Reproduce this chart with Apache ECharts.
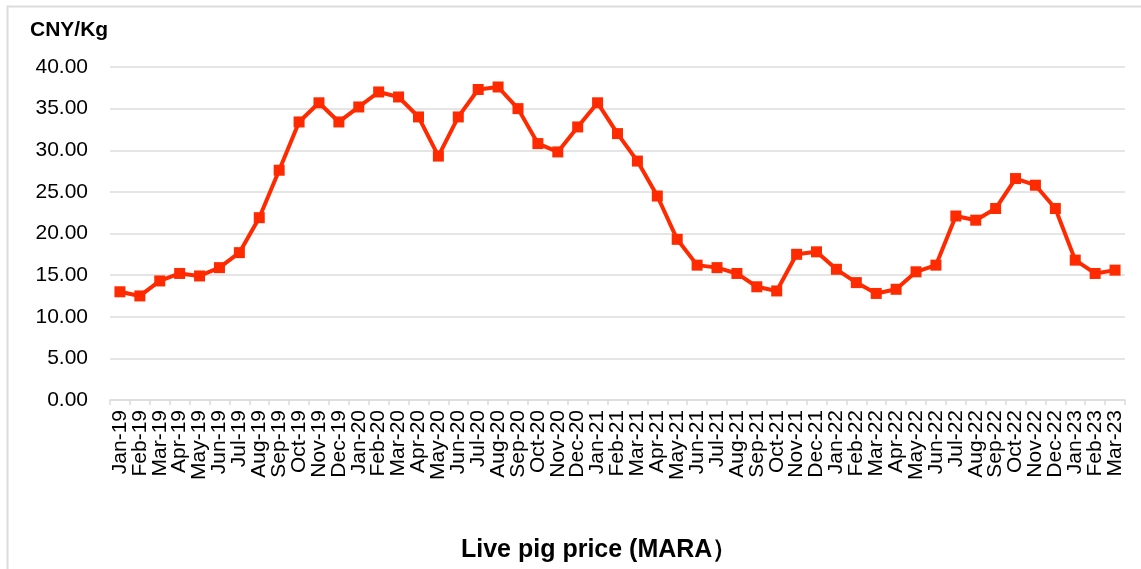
<!DOCTYPE html>
<html>
<head>
<meta charset="utf-8">
<script src="https://cdn.jsdelivr.net/npm/echarts@6/dist/echarts.min.js"></script>
<style>
  html, body { margin: 0; padding: 0; background: #fff; }
  #pig-price { width: 1141px; height: 569px; }
</style>
</head>
<body>
<div id="pig-price"></div>
<script>
  // months shown on the x axis
  let months = [
    'Jan-19','Feb-19','Mar-19','Apr-19','May-19','Jun-19','Jul-19','Aug-19','Sep-19','Oct-19','Nov-19','Dec-19',
    'Jan-20','Feb-20','Mar-20','Apr-20','May-20','Jun-20','Jul-20','Aug-20','Sep-20','Oct-20','Nov-20','Dec-20',
    'Jan-21','Feb-21','Mar-21','Apr-21','May-21','Jun-21','Jul-21','Aug-21','Sep-21','Oct-21','Nov-21','Dec-21',
    'Jan-22','Feb-22','Mar-22','Apr-22','May-22','Jun-22','Jul-22','Aug-22','Sep-22','Oct-22','Nov-22','Dec-22',
    'Jan-23','Feb-23','Mar-23'
  ];

  // live pig price, CNY/Kg
  let prices = [
    13.0, 12.5, 14.3, 15.2, 14.9, 15.9, 17.7, 21.9, 27.6, 33.4, 35.7, 33.4,
    35.2, 37.0, 36.4, 34.0, 29.3, 34.0, 37.3, 37.6, 35.0, 30.8, 29.8, 32.8,
    35.7, 32.0, 28.7, 24.5, 19.3, 16.2, 15.9, 15.2, 13.6, 13.1, 17.5, 17.8,
    15.7, 14.1, 12.8, 13.3, 15.4, 16.2, 22.1, 21.6, 23.0, 26.6, 25.8, 23.0,
    16.8, 15.2, 15.6
  ];

  let yTicks = { min: 0, max: 40, step: 5 };

  let chart = echarts.init(document.getElementById('pig-price'));

  const font = '"Liberation Sans", Arial, Helvetica, sans-serif';
  const red = '#ff2a00';
  const grey = '#dcdcdc';

  chart.setOption({
    animation: false,
    backgroundColor: '#fff',
    textStyle: { fontFamily: font },
    graphic: [
      {
        type: 'rect',
        silent: true,
        shape: { x: 7.5, y: 6.5, width: 1200, height: 700 },
        style: { fill: 'none', stroke: grey, lineWidth: 2 }
      }
    ],
    title: [
      {
        text: 'CNY/Kg',
        left: 25,
        top: 15,
        textStyle: { fontFamily: font, fontSize: 21, fontWeight: 'bold', color: '#000' }
      },
      {
        text: 'Live pig price (MARA）',
        left: 456,
        top: 533,
        textStyle: { fontFamily: font, fontSize: 25, fontWeight: 'bold', color: '#000' }
      }
    ],
    grid: {
      left: 110,
      right: 16,
      top: 67,
      bottom: 169
    },
    xAxis: {
      type: 'category',
      data: months,
      boundaryGap: true,
      axisLine: { lineStyle: { color: grey, width: 1.5 } },
      axisTick: { show: true, length: 5, interval: 0, lineStyle: { color: grey, width: 1.5 } },
      axisLabel: {
        interval: 0,
        rotate: 90,
        margin: 10,
        color: '#000',
        fontFamily: font,
        fontSize: 21
      }
    },
    yAxis: {
      type: 'value',
      min: yTicks.min,
      max: yTicks.max,
      interval: yTicks.step,
      axisLine: { show: false },
      axisTick: { show: false },
      splitLine: { lineStyle: { color: grey, width: 1.5 } },
      axisLabel: {
        margin: 22,
        color: '#000',
        fontFamily: font,
        fontSize: 21,
        formatter: (v) => v.toFixed(2)
      }
    },
    series: [
      {
        name: 'Live pig price',
        type: 'line',
        data: prices,
        symbol: 'rect',
        symbolSize: 11,
        showAllSymbol: true,
        lineStyle: { color: red, width: 4 },
        itemStyle: { color: red }
      }
    ]
  });
</script>
</body>
</html>
